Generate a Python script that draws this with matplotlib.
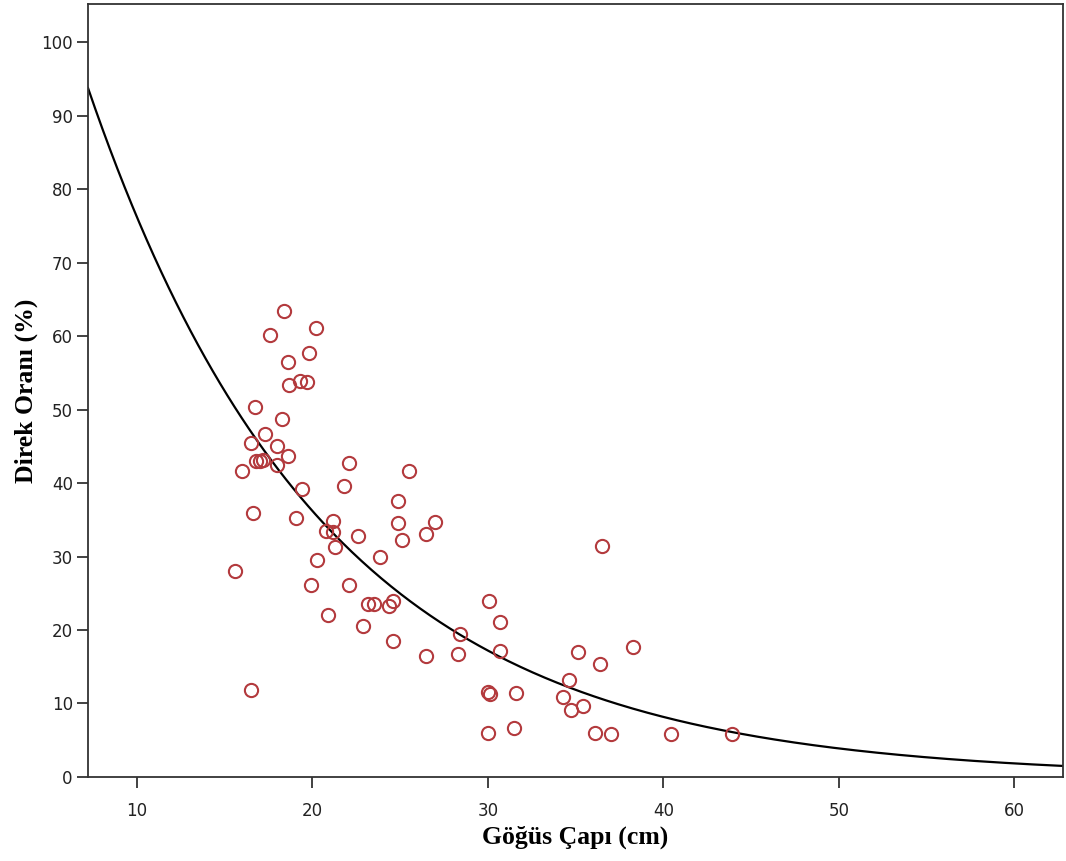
import numpy as np
import matplotlib.pyplot as plt

# Göğüs çapı (cm) ve direk oranı (%) gözlemleri
gogus_capi = [18.38, 20.18, 17.58, 19.78, 18.59, 18.68, 19.29, 19.70, 16.71, 18.28,
              17.29, 16.48, 17.99, 18.59, 16.78, 17.00, 17.20, 17.99, 15.98, 22.10,
              25.48, 19.40, 21.79, 24.89, 16.59, 19.08, 21.19, 24.89, 27.00, 20.77,
              21.15, 22.57, 26.46, 25.08, 21.28, 23.86, 20.27, 15.60, 19.90, 22.10,
              23.16, 23.50, 24.38, 24.61, 20.88, 22.88, 24.59, 26.48, 16.48, 30.08,
              30.71, 28.40, 30.71, 28.29, 36.50, 35.16, 38.28, 36.40, 34.60, 34.29,
              35.43, 34.76, 30.02, 30.11, 31.59, 30.00, 31.48, 36.08, 37.01, 40.41,
              43.90]
direk_orani = [63.4, 61.1, 60.1, 57.7, 56.5, 53.3, 53.9, 53.7, 50.3, 48.7,
               46.7, 45.4, 45.1, 43.7, 43.0, 43.0, 43.1, 42.4, 41.7, 42.7,
               41.7, 39.2, 39.6, 37.6, 35.9, 35.2, 34.8, 34.6, 34.7, 33.5,
               33.4, 32.8, 33.1, 32.2, 31.3, 29.9, 29.5, 28.0, 26.1, 26.1,
               23.5, 23.5, 23.3, 23.9, 22.1, 20.5, 18.5, 16.5, 11.8, 24.0,
               21.1, 19.5, 17.2, 16.8, 31.5, 17.0, 17.7, 15.4, 13.2, 10.9,
               9.7, 9.1, 11.6, 11.3, 11.4, 6.0, 6.7, 6.0, 5.9, 5.8,
               5.9]

# Üstel model: y = a * exp(-b * x)
a_katsayi = 160.3
b_katsayi = 0.0744

x_min, x_max = 7.21, 62.77
y_min, y_max = 0, 105.2

fig = plt.figure(figsize=(10.66, 8.61), dpi=100)
ax = fig.add_axes([0.0826, 0.0976, 0.9144, 0.8978])

# Eğri
xs = np.linspace(x_min, x_max, 400)
ax.plot(xs, a_katsayi * np.exp(-b_katsayi * xs), color='black', lw=1.6, zorder=2)

# Noktalar
ax.plot(gogus_capi, direk_orani, 'o', markersize=9.5, markerfacecolor='none',
        markeredgecolor='#b33a3d', markeredgewidth=1.5, zorder=3)

ax.set_xlim(x_min, x_max)
ax.set_ylim(y_min, y_max)
ax.set_xticks([10, 20, 30, 40, 50, 60])
ax.set_yticks(range(0, 101, 10))

for s in ax.spines.values():
    s.set_color('#333333')
    s.set_linewidth(1.3)

ax.tick_params(direction='out', length=8, width=1.3, color='#333333',
               labelsize=12, labelcolor='#222222', top=False, right=False)
ax.tick_params(axis='x', pad=10)
ax.tick_params(axis='y', pad=3)

ax.set_xlabel('Göğüs Çapı (cm)', fontsize=18.5, fontweight='bold',
              family='Liberation Serif', labelpad=4)
ax.set_ylabel('Direk Oranı (%)', fontsize=18.5, fontweight='bold',
              family='Liberation Serif', labelpad=2)

fig.savefig('out.png', dpi=100)
